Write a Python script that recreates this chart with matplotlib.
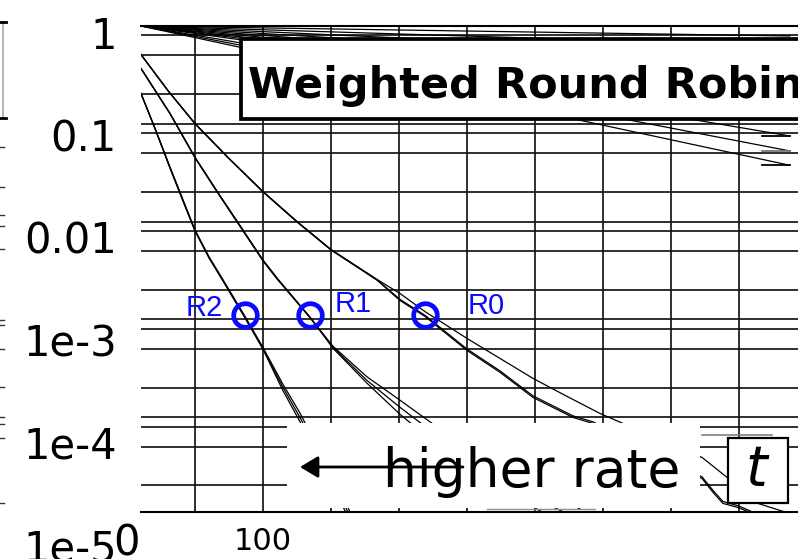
import matplotlib
matplotlib.use("Agg")
import matplotlib.pyplot as plt
from matplotlib.patches import Rectangle, FancyArrowPatch
from matplotlib.lines import Line2D
from matplotlib.ticker import NullLocator

# ---------------- data ----------------
# gridlines
grid_x = [50, 100, 150, 200, 250, 300, 350, 400, 450]
grid_y = [1, 0.8, 0.5, 0.2, 0.1, 0.08, 0.05, 0.02, 0.01, 0.008, 0.005, 0.002,
          1e-3, 8e-4, 5e-4, 2e-4, 1e-4, 8e-5, 5e-5, 2e-5]

# slowly decaying family (start / end)
fan_x = [10.3, 487.5]
fan_start = 1.0
fan_end = [0.790, 0.624, 0.493, 0.390, 0.308, 0.243, 0.192, 0.152, 0.120,
           0.075, 0.0527, 0.0376]
end_mark_x = [466.9, 487.5]
end_mark_v = [0.075, 0.0527, 0.0376]

# R2 bundle
r2_x = [10.3, 20.6, 31.6, 41.2, 50.0, 60.3, 70.6, 86.8, 100.0, 114.7, 127.2, 140.4, 152.9, 165.4]
r2_a = [0.204, 0.0895, 0.0357, 0.0164, 0.00811, 0.0043, 0.0025, 0.00105, 0.000504,
        0.000201, 0.0000993, 0.0000435, 0.0000200, 0.0000088]
r2_b = [0.205, 0.0890, 0.0352, 0.0161, 0.0080, 0.00424, 0.00246, 0.00103, 0.000494,
        0.000186, 0.0000900, 0.0000390, 0.0000178, 0.0000079]
r2_c = [0.203, 0.0900, 0.0362, 0.0167, 0.0082, 0.00436, 0.00254, 0.00107, 0.000515,
        0.000216, 0.000110, 0.0000480, 0.0000222, 0.0000098]

# R1 bundle
r1_x = [10.3, 31.6, 50.0, 66.2, 100.0, 110.3, 134.6, 151.5, 176.5, 200.7, 225.0, 250.0,
        274.3, 303.7, 333.1]
r1_a = [0.3675, 0.1274, 0.0452, 0.0203, 0.0040, 0.00262, 0.001045, 0.000516, 0.000237,
        0.000126, 0.0000698, 0.0000406, 0.0000236, 0.0000141, 0.0000088]
r1_b = [0.366, 0.1268, 0.0449, 0.0201, 0.00396, 0.00259, 0.00104, 0.000530, 0.000258,
        0.000149, 0.0000850, 0.0000500, 0.0000300, 0.0000180, 0.0000115]
r1_c = [0.369, 0.128, 0.0455, 0.0205, 0.00405, 0.00265, 0.00105, 0.000505, 0.000222,
        0.000107, 0.0000560, 0.0000320, 0.0000185, 0.0000110, 0.0000070]

# R0 bundle
r0_a_x = [10.3, 30.1, 50.0, 75.0, 100.0, 125.0, 150.0, 183.8, 200.7, 219.1, 250.0, 274.3,
          298.5, 323.5, 347.8, 364.7, 391.9, 422.8, 441.2, 454.4, 464.0, 480.1, 494.9]
r0_a = [0.511, 0.219, 0.1007, 0.0442, 0.0203, 0.01002, 0.00518, 0.00256, 0.00184, 0.00120,
        0.000638, 0.000398, 0.000249, 0.000163, 0.000109, 0.0000862, 0.0000578, 0.0000387,
        0.0000242, 0.0000170, 0.0000131, 0.0000111, 0.00000966]
r0_bc_x = [10.3, 30.1, 50.0, 75.0, 100.0, 125.0, 150.0, 183.8, 200.7, 219.1, 250.0, 274.3,
           298.5, 327.9, 342.6, 384.6, 422.8, 430.9, 438.2, 449.3, 458.1, 465.4]
r0_b = [0.509, 0.218, 0.1, 0.044, 0.0201, 0.0099, 0.00512, 0.00252, 0.00156, 0.00107,
        0.000481, 0.000287, 0.000159, 0.0000993, 0.0000862, 0.0000406, 0.0000236, 0.0000170,
        0.0000131, 0.0000119, 0.0000106, 0.0000092]
r0_c = [0.510, 0.2185, 0.1003, 0.0441, 0.0202, 0.00995, 0.00515, 0.00254, 0.00160, 0.00110,
        0.000497, 0.000297, 0.000165, 0.000103, 0.0000895, 0.0000420, 0.0000245, 0.0000178,
        0.0000137, 0.0000124, 0.0000110, 0.0000096]

# marked operating points
mark_names = ["R2", "R1", "R0"]
mark_x = [86.8, 134.6, 219.1]
mark_v = [0.0011, 0.0011, 0.0011]

# stray short segments
stray_a_x = [422.8, 474.3]
stray_a_v = [6.5e-5, 6.5e-5]
stray_b_x = [264.7, 344.1]
stray_b_v = [1.14e-5, 1.14e-5]

y_tick_vals = [1, 0.1, 0.01, 1e-3, 1e-4, 1e-5]
y_tick_text = ["1", "0.1", "0.01", "1e-3", "1e-4", "1e-5"]
x_tick_vals = [100]
x_tick_text = ["100"]

# ---------------- figure ----------------
W, H = 798, 559
fig = plt.figure(figsize=(W / 100, H / 100), dpi=100)


def fx(px):
    return px / W


def fy(py):
    return 1 - py / H


ax = fig.add_axes([fx(141), fy(512), fx(798) - fx(141), fy(26) - fy(512)])
ax.set_yscale("log")
ax.set_xlim(10.3, 493.4)
ax.set_ylim(1.07e-5, 1.0)
ax.yaxis.set_major_locator(NullLocator())
ax.yaxis.set_minor_locator(NullLocator())
ax.set_xticks(x_tick_vals)
ax.set_xticklabels(x_tick_text)
ax.xaxis.set_minor_locator(NullLocator())
ax.tick_params(axis="x", length=0, pad=11, labelsize=22)
for side in ("left", "right"):
    ax.spines[side].set_visible(False)
for side in ("top", "bottom"):
    ax.spines[side].set_linewidth(1.5)

grid_kw = dict(color="#161616", lw=1.25, zorder=1)
for gx in grid_x:
    ax.axvline(gx, **grid_kw)
for gy in grid_y:
    ax.axhline(gy, **grid_kw)

line_kw = dict(color="black", lw=0.9, zorder=2)
for v_end in fan_end:
    ax.plot(fan_x, [fan_start, v_end], **line_kw)
for v, c in zip(end_mark_v, ["black", "#777777", "black"]):
    ax.plot(end_mark_x, [v, v], color=c, lw=1.3, zorder=2)

for yv in (r2_a, r2_b, r2_c):
    ax.plot(r2_x, yv, **line_kw)
for yv in (r1_a, r1_b, r1_c):
    ax.plot(r1_x, yv, **line_kw)
ax.plot(r0_a_x, r0_a, **line_kw)
for yv in (r0_b, r0_c):
    ax.plot(r0_bc_x, yv, **line_kw)

ax.plot(stray_a_x, stray_a_v, color="#808080", lw=1.2, zorder=2)
ax.plot(stray_b_x, stray_b_v, color="#909090", lw=1.0, zorder=2, clip_on=False)

ax.plot(mark_x, mark_v, "o", mfc="none", mec="#0a0aff", ms=17, mew=3.4, zorder=4)
label_offsets = {"R2": (-16, -0.7, "right"), "R1": (18, 2.2, "left"), "R0": (31, 0.7, "left")}
for name, x, v in zip(mark_names, mark_x, mark_v):
    dx, dy, ha = label_offsets[name]
    ax.annotate(name, (x, v), xytext=(dx, dy), textcoords="offset points",
                ha=ha, va="baseline", color="#0a0aff", fontsize=21,
                family="Liberation Sans", zorder=4)

# y tick labels on their own scale
lab = fig.add_axes([fx(141), 0, 0.01, 1])
lab.patch.set_visible(False)
for s in lab.spines.values():
    s.set_visible(False)
lab.set_yscale("log")
lab.set_ylim(7.25e-6, 2.061)
lab.set_yticks(y_tick_vals)
lab.set_yticklabels(y_tick_text)
lab.yaxis.set_minor_locator(NullLocator())
lab.set_xticks([])
lab.tick_params(axis="y", length=0, pad=17.3, labelsize=30)
fig.text(fx(127), fy(543), "0", ha="center", va="center", fontsize=30)

# left-edge fragments
fig.add_artist(Line2D([fx(2.5), fx(2.5)], [fy(22), fy(118)], color="#aaaaaa", lw=1.2,
                      transform=fig.transFigure))
for py in (22, 118):
    fig.add_artist(Line2D([fx(0), fx(6)], [fy(py), fy(py)], color="black", lw=2,
                          transform=fig.transFigure))
for py in (147, 187, 215, 226, 249, 320, 325, 349, 387, 417, 424, 438, 503):
    fig.add_artist(Line2D([fx(0), fx(4)], [fy(py), fy(py)], color="#333333", lw=1,
                          transform=fig.transFigure))

# overlay: arrow legend area
fig.add_artist(Rectangle((fx(287), fy(508)), fx(700) - fx(287), fy(423) - fy(508),
                         transform=fig.transFigure, facecolor="white", edgecolor="none",
                         zorder=5))
fig.add_artist(FancyArrowPatch((fx(463), fy(467)), (fx(300), fy(467)),
                               transform=fig.transFigure,
                               arrowstyle="-|>,head_length=0.55,head_width=0.33",
                               mutation_scale=20, lw=2, color="black",
                               shrinkA=0, shrinkB=0, zorder=6))
fig.text(fx(383), fy(487), "higher rate", fontsize=38.5, ha="left", va="baseline", zorder=7)

# overlay: variable box
fig.add_artist(Rectangle((fx(728), fy(503)), fx(788) - fx(728), fy(438) - fy(503),
                         transform=fig.transFigure, facecolor="white", edgecolor="black",
                         lw=1.6, zorder=6))
fig.text(fx(758), fy(470), "$t$", fontsize=40, ha="center", va="center", zorder=7)

# title box
fig.add_artist(Rectangle((fx(241), fy(119)), fx(812) - fx(241), fy(39) - fy(119),
                         transform=fig.transFigure, facecolor="white", edgecolor="black",
                         lw=2.7, zorder=6))
fig.text(fx(248), fy(98), "Weighted Round Robin", fontsize=31, fontweight="bold",
         ha="left", va="baseline", zorder=7)

fig.savefig("out.png", dpi=100)
